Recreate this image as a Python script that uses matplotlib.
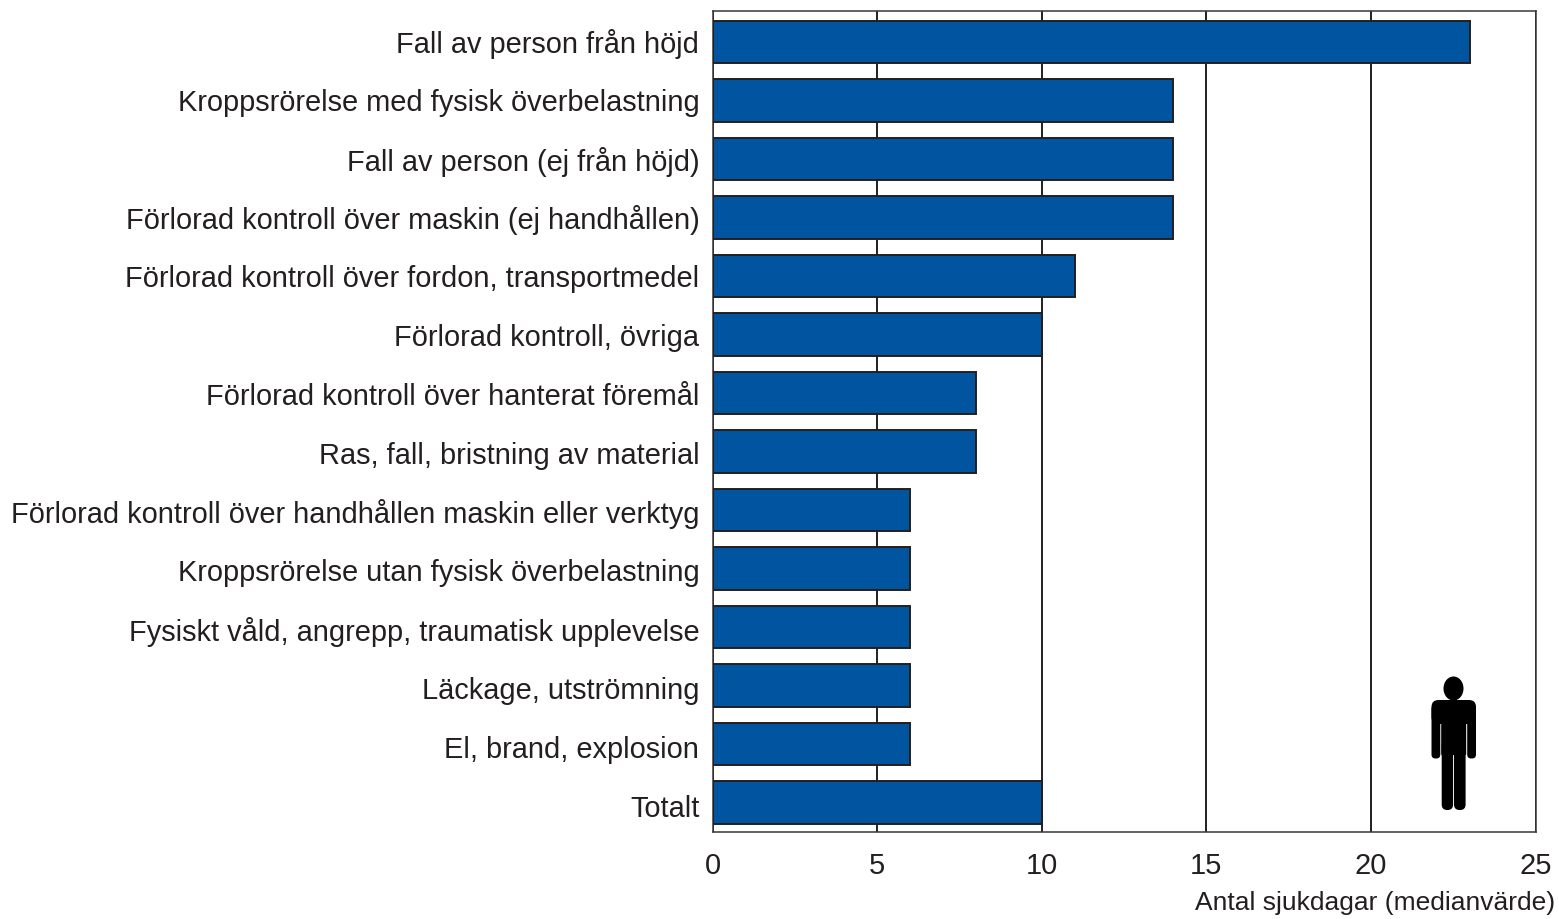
import matplotlib
matplotlib.use('Agg')
import numpy as np
from matplotlib import pyplot as plt
from matplotlib.patches import Ellipse, FancyBboxPatch
from matplotlib.transforms import ScaledTranslation

plt.rcParams['font.family'] = ['Liberation Sans', 'DejaVu Sans']

kategorier = ['Fall av person från höjd',
              'Kroppsrörelse med fysisk överbelastning',
              'Fall av person (ej från höjd)',
              'Förlorad kontroll över maskin (ej handhållen)',
              'Förlorad kontroll över fordon, transportmedel',
              'Förlorad kontroll, övriga',
              'Förlorad kontroll över hanterat föremål',
              'Ras, fall, bristning av material',
              'Förlorad kontroll över handhållen maskin eller verktyg',
              'Kroppsrörelse utan fysisk överbelastning',
              'Fysiskt våld, angrepp, traumatisk upplevelse',
              'Läckage, utströmning',
              'El, brand, explosion',
              'Totalt']
dagar = [23, 14, 14, 14, 11, 10, 8, 8, 6, 6, 6, 6, 6, 10]
xticks = [0, 5, 10, 15, 20, 25]

W, H = 1559, 919
svart = '#231f20'
fig = plt.figure(figsize=(W/100, H/100), dpi=100)
ax = fig.add_axes([712.5/W, 1-831.5/H, (1535.5-712.5)/W, (831.5-11)/H])

y = np.arange(len(kategorier))
ax.barh(y, dagar, height=0.73, color='#0054a0', edgecolor=svart, linewidth=1.4, zorder=3)
ax.set_xlim(0, 25)
ax.set_ylim(13.496, -0.53)
ax.set_yticks(y)
ax.set_yticklabels(kategorier, fontsize=20.9, color=svart)
ax.set_xticks(xticks)
ax.set_xticklabels(xticks, fontsize=20.9, color=svart)
ax.tick_params(axis='y', length=0, pad=9.5)
ax.tick_params(axis='x', length=0, pad=14.5)
ax.grid(axis='x', color=svart, linewidth=1.4, zorder=1)
ax.set_axisbelow(True)
for s in ['top', 'right', 'bottom', 'left']:
    ax.spines[s].set_linewidth(1.1)
    ax.spines[s].set_color('#3a3637')

# texterna glider lite nedat i originalet
for i, t in enumerate(ax.get_yticklabels()):
    forskj = (1 - i*0.31)/100
    t.set_transform(t.get_transform() + ScaledTranslation(0, forskj, fig.dpi_scale_trans))

fig.text(1555/W, 1-903/H, 'Antal sjukdagar (medianvärde)', ha='right', va='center',
         fontsize=19, color=svart)

# liten figur nere till hoger, i pixlar
over = fig.add_axes([0, 0, 1, 1])
over.set_xlim(0, W)
over.set_ylim(H, 0)
over.axis('off')


def del_av_figur(x, y0, b, h, r):
    over.add_patch(FancyBboxPatch((x, y0), b, h, boxstyle='round,pad=0,rounding_size=%.1f' % r,
                                  facecolor='black', linewidth=0))


over.add_patch(Ellipse((1453.5, 688.5), 20, 24, facecolor='black', linewidth=0))
del_av_figur(1431.5, 700, 44.5, 24, 7)
del_av_figur(1431.5, 705, 8.8, 53.5, 4)
del_av_figur(1467.2, 705, 8.8, 53.5, 4)
del_av_figur(1441.2, 705, 25, 50, 1)
del_av_figur(1441.7, 740, 11.4, 70, 5.5)
del_av_figur(1454, 740, 11.6, 70, 5.5)

fig.savefig('out.png', dpi=100)
